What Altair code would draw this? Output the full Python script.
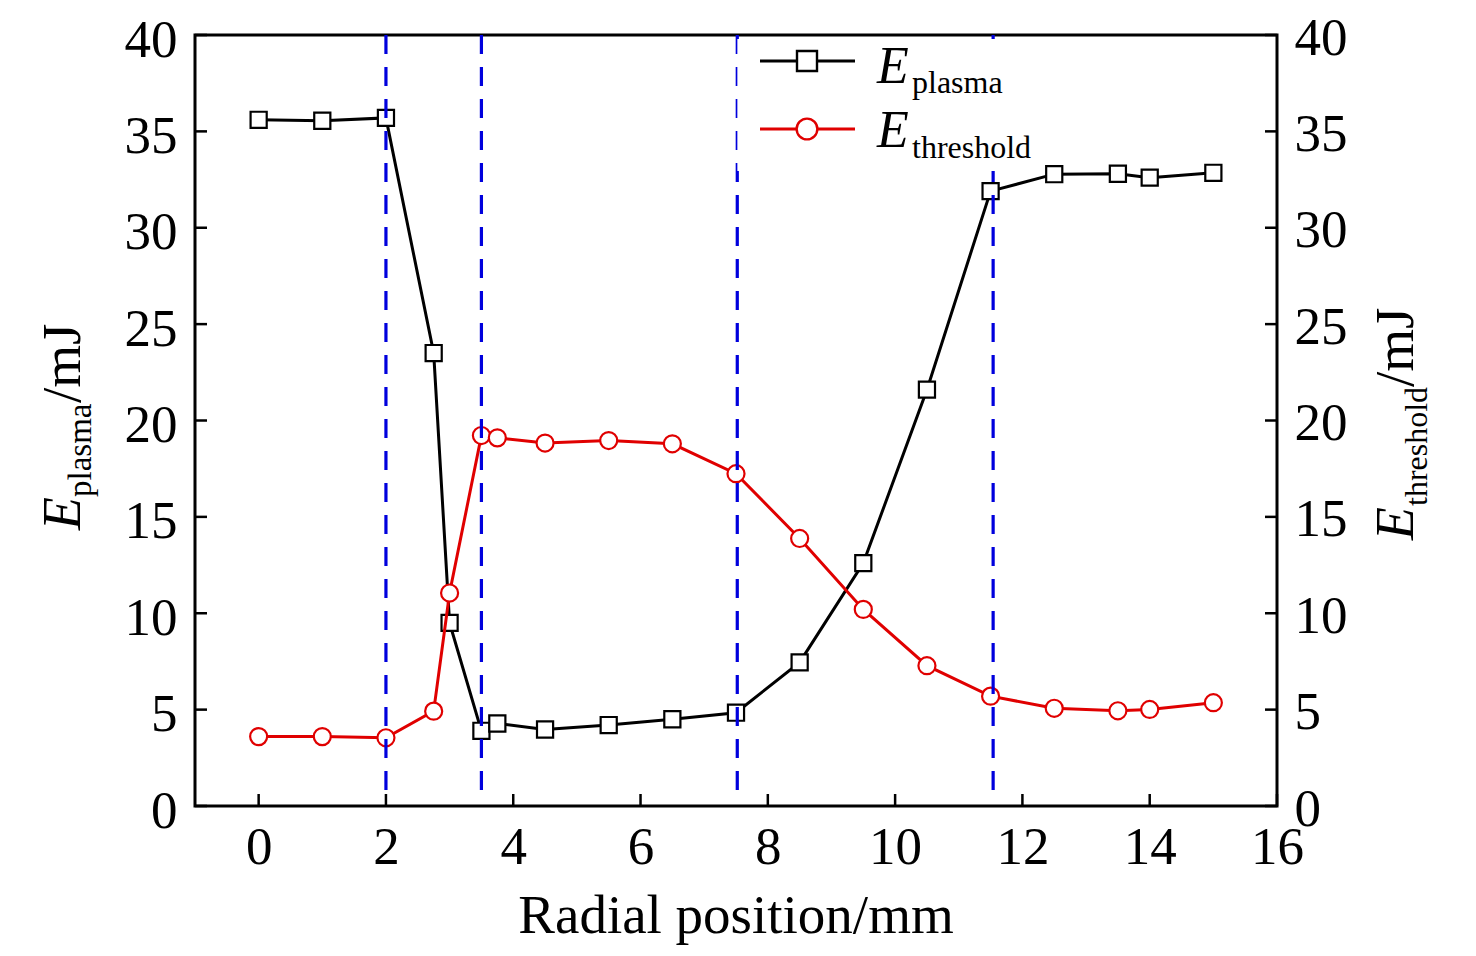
import altair as alt
import pandas as pd

# ---------------- data ----------------
x_pos = [0, 1, 2, 2.75, 3, 3.5, 3.75, 4.5, 5.5, 6.5, 7.5, 8.5, 9.5, 10.5, 11.5, 12.5, 13.5, 14, 15]
e_plasma = [35.6, 35.55, 35.7, 23.5, 9.5, 3.9, 4.28, 3.97, 4.2, 4.5, 4.84, 7.45, 12.6, 21.6, 31.9, 32.78, 32.8, 32.6, 32.85]
e_threshold = [3.6, 3.6, 3.54, 4.92, 11.05, 19.22, 19.1, 18.83, 18.96, 18.79, 17.24, 13.88, 10.2, 7.28, 5.7, 5.07, 4.94, 5.01, 5.36]
boundary_x = [2.0, 3.5, 7.52, 11.54]
x_ticks = [0, 2, 4, 6, 8, 10, 12, 14, 16]
y_ticks = [0, 5, 10, 15, 20, 25, 30, 35, 40]
legend_subs = ["plasma", "threshold"]
x_title = "Radial position/mm"
unit = "/mJ"

W, H = 1082, 771
FONT = "Liberation Serif"
BLACK = "#000000"
RED = "#e00000"
BLUE = "#0000dd"
DASH = [19, 13]

df = pd.DataFrame({"x": x_pos, "plasma": e_plasma, "threshold": e_threshold})
df_xt = pd.DataFrame({"v": x_ticks})
df_yt = pd.DataFrame({"v": y_ticks})
df_b = pd.DataFrame({"b": boundary_x})

x_scale = alt.Scale(domain=[-1, 16], nice=False, zero=False)
y_scale = alt.Scale(domain=[0, 40], nice=False, zero=False)

common = dict(domain=False, ticks=False, grid=False, labelFont=FONT, labelFontSize=53,
              labelColor="black", labelOverlap=False, labelBound=False, title=None, format="d")
x_axis = alt.Axis(orient="bottom", values=x_ticks, labelPadding=15, labelFlush=False, **common)
yl_axis = alt.Axis(orient="left", values=y_ticks, labelPadding=18, labelOffset=5, labelFlush=False, **common)
yr_axis = alt.Axis(orient="right", values=y_ticks, labelPadding=17, labelOffset=3, labelFlush=False, **common)


def X(f):
    return alt.X(f, type="quantitative", scale=x_scale, axis=x_axis)


def YL(f):
    return alt.Y(f, type="quantitative", scale=y_scale, axis=yl_axis)


def YR(f):
    return alt.Y(f, type="quantitative", scale=y_scale, axis=yr_axis)


def txt(s, x, y, size, italic=False, angle=0):
    kw = dict(align="left", baseline="alphabetic", font=FONT, fontSize=size,
              fontStyle="italic" if italic else "normal", color="black")
    if angle:
        kw["angle"] = angle
    return alt.Chart(pd.DataFrame({"t": [s]})).mark_text(**kw).encode(
        x=alt.value(x), y=alt.value(y), text="t:N")


# ---------------- back: upper part of the boundaries, masked by the legend box ----------------
blue_back = alt.Chart(df_b).transform_filter(alt.datum.b > 7).mark_rule(
    color=BLUE, strokeWidth=3.2, strokeDash=DASH).encode(x=X("b"), y=alt.value(0), y2=alt.value(140))
leg_box = alt.Chart(pd.DataFrame({"s": legend_subs})).mark_rect(color="white", opacity=1).encode(
    x=alt.value(542.6), x2=alt.value(845), y=alt.value(4), y2=alt.value(136))
back = alt.layer(blue_back, leg_box)

# ---------------- left group (E_plasma) ----------------
black_line = alt.Chart(df).mark_line(color=BLACK, strokeWidth=3).encode(x=X("x"), y=YL("plasma"))
black_pts = alt.Chart(df).mark_square(fill="white", stroke=BLACK, strokeWidth=2.2, size=260, opacity=1).encode(
    x=X("x"), y=YL("plasma"))
left_ticks = alt.Chart(df_yt).mark_rule(color=BLACK, strokeWidth=2.5).encode(
    y=YL("v"), x=alt.value(0), x2=alt.value(12))
bottom_ticks = alt.Chart(df_xt).mark_rule(color=BLACK, strokeWidth=2.5).encode(
    x=X("v"), y=alt.value(H), y2=alt.value(H - 12))
left_group = alt.layer(black_line, black_pts, left_ticks, bottom_ticks)

# ---------------- right group (E_threshold) ----------------
red_line = alt.Chart(df).mark_line(color=RED, strokeWidth=3).encode(x=X("x"), y=YR("threshold"))
red_pts = alt.Chart(df).mark_circle(fill="white", stroke=RED, strokeWidth=2.2, size=290, opacity=1).encode(
    x=X("x"), y=YR("threshold"))
right_ticks = alt.Chart(df_yt).mark_rule(color=BLACK, strokeWidth=2.5).encode(
    y=YR("v"), x=alt.value(W - 12), x2=alt.value(W))
right_group = alt.layer(red_line, red_pts, right_ticks)

# ---------------- front: dashed boundaries over the markers, legend, titles ----------------
blue_front = alt.Chart(df_b).transform_filter(alt.datum.b < 7).mark_rule(
    color=BLUE, strokeWidth=3.2, strokeDash=DASH).encode(x=X("b"), y=alt.value(0), y2=alt.value(H - 16))
blue_front_low = alt.Chart(df_b).transform_filter(alt.datum.b > 7).mark_rule(
    color=BLUE, strokeWidth=3.2, strokeDash=DASH, strokeDashOffset=12).encode(
    x=X("b"), y=alt.value(140), y2=alt.value(H - 16))

leg_line1 = alt.Chart(pd.DataFrame({"s": [legend_subs[0]]})).mark_rule(color=BLACK, strokeWidth=3.2).encode(
    x=alt.value(565), x2=alt.value(660), y=alt.value(26))
leg_pt1 = alt.Chart(pd.DataFrame({"s": [legend_subs[0]]})).mark_square(
    fill="white", stroke=BLACK, strokeWidth=2.4, size=400, opacity=1).encode(x=alt.value(612), y=alt.value(26))
leg_line2 = alt.Chart(pd.DataFrame({"s": [legend_subs[1]]})).mark_rule(color=RED, strokeWidth=3.2).encode(
    x=alt.value(565), x2=alt.value(660), y=alt.value(94))
leg_pt2 = alt.Chart(pd.DataFrame({"s": [legend_subs[1]]})).mark_circle(
    fill="white", stroke=RED, strokeWidth=2.4, size=430, opacity=1).encode(x=alt.value(612), y=alt.value(94))

texts = [
    # legend
    txt("E", 682, 48, 52, italic=True),
    txt(legend_subs[0], 717, 58, 32),
    txt("E", 682, 112, 52, italic=True),
    txt(legend_subs[1], 717, 123, 32),
    # x title
    alt.Chart(pd.DataFrame({"t": [x_title]})).mark_text(
        align="center", baseline="alphabetic", font=FONT, fontSize=55, color="black").encode(
        x=alt.value(541), y=alt.value(898), text="t:N"),
    # left y title
    txt("E", -115, 495, 54, italic=True, angle=270),
    txt(legend_subs[0], -104, 462, 33, angle=270),
    txt(unit, -115, 368, 55, angle=270),
    # right y title
    txt("E", 1218, 505, 54, italic=True, angle=270),
    txt(legend_subs[1], 1232, 471, 32, angle=270),
    txt(unit, 1218, 352, 55, angle=270),
]

front = alt.layer(blue_front, blue_front_low, leg_line1, leg_line2, leg_pt1, leg_pt2, *texts)

chart = alt.layer(back, left_group, right_group, front).resolve_scale(y="independent").properties(
    width=W, height=H,
    autosize=alt.AutoSizeParams(type="none"),
    padding={"left": 187, "top": 27, "right": 180, "bottom": 141},
    background="white",
).configure_view(stroke="black", strokeWidth=3)

chart.save("out.html", embed_options={"renderer": "svg", "actions": False})
